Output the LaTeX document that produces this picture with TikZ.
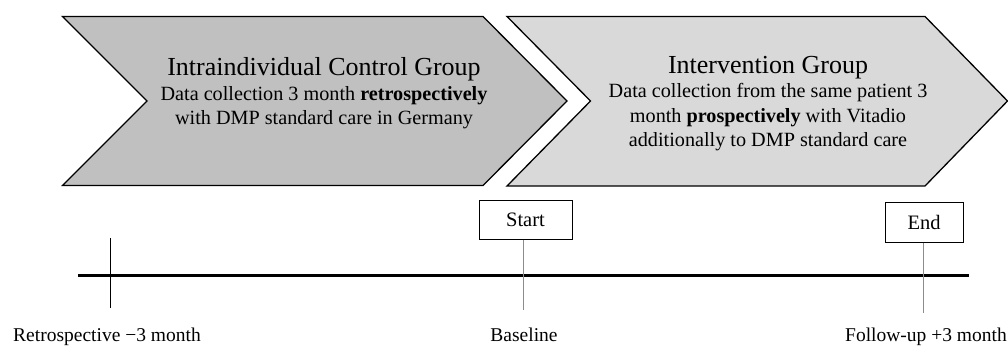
\documentclass[tikz,border=0pt]{standalone}
\usepackage{fontspec}
\setmainfont{Liberation Serif}
\begin{document}
\begin{tikzpicture}[x=1pt,y=-1pt,
  chev/.style={draw=black,line width=1.3pt,line join=miter},
  title/.style={anchor=base,inner sep=0pt,font=\fontsize{26}{30}\selectfont},
  body/.style={anchor=base,inner sep=0pt,font=\fontsize{20.2}{24}\selectfont},
  tag/.style={draw=black,line width=1pt,fill=white,inner sep=0pt,
    font=\fontsize{20.5}{24}\selectfont},
  timelabel/.style={anchor=base,inner sep=0pt,font=\fontsize{19.5}{24}\selectfont},
  tick/.style={line width=1pt},
  gtick/.style={draw=gray!90,line width=1pt}]
\useasboundingbox (0,0) rectangle (1008,345);

% phase chevrons
\fill[white] (0,0) rectangle (1008,345);
\draw[chev,fill={rgb,255:red,192;green,192;blue,192}]
  (62.5,16.5) -- (483,16.5) -- (567,101) -- (483,185.5) -- (62.5,185.5) -- (147,101) -- cycle;
\draw[chev,fill={rgb,255:red,217;green,217;blue,217}]
  (507,16.5) -- (925,16.5) -- (1007.5,101) -- (925,186) -- (507,186) -- (590.5,101) -- cycle;

% control group text
\node[title] (ctitle) at (324,75) {Intraindividual Control Group};
\node[body] (cl1) at (324,100) {Data collection 3 month \textbf{retrospectively}};
\node[body] (cl2) at (324,124.5) {with DMP standard care in Germany};

% intervention group text
\node[title] (ititle) at (768,73) {Intervention Group};
\node[body] (il1) at (768,97.5) {Data collection from the same patient 3};
\node[body] (il2) at (768,122) {month \textbf{prospectively} with Vitadio};
\node[body] (il3) at (768,146.5) {additionally to DMP standard care};

% timeline
\coordinate (tl0) at (78,275.5);
\coordinate (tl1) at (969,275.5);
\draw[line width=3pt] (tl0) -- (tl1);

% milestone boxes and ticks
\node[tag,minimum width=93pt,minimum height=39pt] (start) at (525.5,219.5) {Start};
\node[tag,minimum width=78pt,minimum height=40pt] (end) at (924,222) {End};
\coordinate (retroTop) at (110,238);
\coordinate (retroBot) at (110,308);
\coordinate (baseBot) at (523.5,310);
\coordinate (endBot) at (923,313);
\draw[tick] (retroTop) -- (retroBot);
\draw[gtick] (start.south -| baseBot) -- (baseBot);
\draw[gtick] (end.south -| endBot) -- (endBot);

% time point labels
\node[timelabel,anchor=base west] (retro) at (13,341) {Retrospective −3 month};
\node[timelabel] (base) at (524,341) {Baseline};
\node[timelabel,anchor=base east] (follow) at (1007,341) {Follow-up +3 month};
\end{tikzpicture}
\end{document}
